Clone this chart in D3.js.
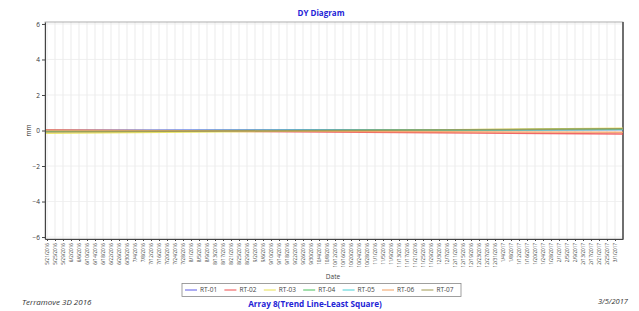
<!DOCTYPE html>
<html>

<head>
    <meta charset="UTF-8">
    <style>
        body { margin: 0; background: #fff; }
        text { font-family: "Open Sans", "DejaVu Sans", sans-serif; }
    </style>
</head>

<body>
    <svg></svg>
    <script src="https://d3js.org/d3.v7.min.js"></script>

    <script>
        const w = 639;
        const h = 311;
        const margin = { top: 22, bottom: 72, left: 45, right: 16 };

        // series and trend line end values (mm), at the first and last date
        const seriesNames = ["RT-01", "RT-02", "RT-03", "RT-04", "RT-05", "RT-06", "RT-07"];
        const seriesColors = ["#5a5ae6", "#ee4c4c", "#e8e050", "#48c05a", "#48d0d6", "#f2a060", "#a09850"];
        const startValues = [0.01, 0.03, -0.16, -0.04, -0.02, 0.01, -0.09];
        const endValues = [0.05, -0.2, 0.12, 0.07, 0.05, -0.1, 0.1];
        const lineDates = ["5/20/2016", "3/5/2017"];

        // y ticks and x tick labels
        const yTicks = [-6, -4, -2, 0, 2, 4, 6];
        const firstTick = "5/21/2016";
        const lastTick = "3/1/2017";
        const tickStepDays = 4;

        const parse = d3.timeParse("%m/%d/%Y");
        const fmt = d => (d.getMonth() + 1) + "/" + d.getDate() + "/" + d.getFullYear();

        const xTicks = d3.timeDay.every(1).range(parse(firstTick), d3.timeDay.offset(parse(lastTick), 1))
            .filter((d, i) => i % tickStepDays == 0);

        let svg = d3.select("svg")
            .attr("width", w)
            .attr("height", h);

        const x = d3.scaleTime()
            .domain(lineDates.map(parse))
            .range([margin.left, w - margin.right]);

        const y = d3.scaleLinear()
            .domain([-6.11, 6.11])
            .range([h - margin.bottom, margin.top]);

        // grid
        svg.append("g")
            .selectAll("line")
            .data(xTicks)
            .enter()
            .append("line")
            .attr("x1", d => x(d)).attr("x2", d => x(d))
            .attr("y1", margin.top).attr("y2", h - margin.bottom)
            .attr("stroke", "#e6e6e6")
            .attr("stroke-width", 0.8);

        svg.append("g")
            .selectAll("line")
            .data(yTicks)
            .enter()
            .append("line")
            .attr("x1", margin.left).attr("x2", w - margin.right)
            .attr("y1", d => y(d)).attr("y2", d => y(d))
            .attr("stroke", "#ececec")
            .attr("stroke-width", 0.8);

        // frame
        svg.append("rect")
            .attr("x", margin.left).attr("y", margin.top)
            .attr("width", w - margin.left - margin.right)
            .attr("height", h - margin.top - margin.bottom)
            .attr("fill", "none")
            .attr("stroke", "#9a9a9a")
            .attr("stroke-width", 0.8);
        svg.append("line")
            .attr("x1", w - margin.right).attr("x2", w - margin.right)
            .attr("y1", margin.top).attr("y2", h - margin.bottom)
            .attr("stroke", "#555").attr("stroke-width", 1.6);

        // trend lines
        const line = d3.line()
            .x(d => x(d[0]))
            .y(d => y(d[1]));

        const seriesData = seriesNames.map((n, i) => ({
            name: n,
            color: seriesColors[i],
            points: [[parse(lineDates[0]), startValues[i]], [parse(lineDates[1]), endValues[i]]]
        }));

        svg.append("g")
            .selectAll("path")
            .data(seriesData)
            .enter()
            .append("path")
            .attr("d", d => line(d.points))
            .attr("fill", "none")
            .attr("stroke", d => d.color)
            .attr("stroke-width", 1.5)
            .attr("opacity", 0.85);

        // axes
        const yAxis = d3.axisLeft(y)
            .tickValues(yTicks)
            .tickSize(3)
            .tickPadding(2)
            .tickSizeOuter(0);

        svg.append("g")
            .attr("transform", "translate(" + margin.left + ",0)")
            .call(yAxis)
            .call(g => g.select(".domain").attr("stroke", "#444"))
            .call(g => g.selectAll(".tick line").attr("stroke", "#444"))
            .call(g => g.selectAll("text").attr("fill", "#333").style("font-size", "6.5px"));

        const xAxis = d3.axisBottom(x)
            .tickValues(xTicks)
            .tickFormat(fmt)
            .tickSize(2)
            .tickPadding(1)
            .tickSizeOuter(0);

        svg.append("g")
            .attr("transform", "translate(0," + (h - margin.bottom) + ")")
            .call(xAxis)
            .call(g => g.select(".domain").attr("stroke", "#444"))
            .call(g => g.selectAll(".tick line").attr("stroke", "#444"))
            .call(g => g.selectAll("text")
                .attr("fill", "#444")
                .style("font-size", "4.6px")
                .attr("text-anchor", "end")
                .attr("transform", "rotate(-90)")
                .attr("x", -4)
                .attr("y", 0)
                .attr("dy", "0.35em"));

        // titles
        svg.append("text")
            .attr("x", 321).attr("y", 16)
            .attr("text-anchor", "middle")
            .attr("fill", "#2323d6")
            .style("font-size", "8px")
            .style("font-weight", "bold")
            .text("DY Diagram");

        svg.append("text")
            .attr("transform", "translate(31," + y(0) + ") rotate(-90)")
            .attr("text-anchor", "middle")
            .attr("fill", "#333")
            .style("font-size", "6.5px")
            .text("mm");

        svg.append("text")
            .attr("x", 333).attr("y", 279)
            .attr("text-anchor", "middle")
            .attr("fill", "#444")
            .style("font-size", "6.5px")
            .text("Date");

        // legend
        const legend = svg.append("g").attr("id", "legend");
        legend.append("rect")
            .attr("x", 182).attr("y", 283.5)
            .attr("width", 279).attr("height", 13)
            .attr("fill", "#fff")
            .attr("stroke", "#888")
            .attr("stroke-width", 0.8);

        const legendStep = 39.4;
        seriesData.forEach((d, i) => {
            const lx = 185 + i * legendStep;
            legend.append("line")
                .attr("x1", lx).attr("x2", lx + 12)
                .attr("y1", 290).attr("y2", 290)
                .attr("stroke", d.color)
                .attr("stroke-width", 1);
            legend.append("text")
                .attr("x", lx + 15).attr("y", 290).attr("dy", "0.35em")
                .attr("fill", "#444")
                .style("font-size", "6.5px")
                .text(d.name);
        });

        svg.append("text")
            .attr("x", 315).attr("y", 307)
            .attr("text-anchor", "middle")
            .attr("fill", "#2323d6")
            .style("font-size", "8.2px")
            .style("font-weight", "bold")
            .text("Array 8(Trend Line-Least Square)");

        svg.append("text")
            .attr("x", 22).attr("y", 305)
            .attr("fill", "#333")
            .style("font-size", "8px")
            .style("font-style", "italic")
            .text("Terramove 3D 2016");

        svg.append("text")
            .attr("x", 628).attr("y", 304)
            .attr("text-anchor", "end")
            .attr("fill", "#333")
            .style("font-size", "7.5px")
            .style("font-style", "italic")
            .text("3/5/2017");
    </script>

</body>

</html>
